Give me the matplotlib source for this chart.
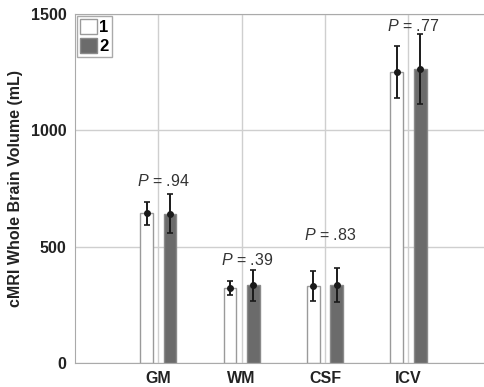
import matplotlib
matplotlib.use("Agg")
import matplotlib.pyplot as plt
import numpy as np

# -----------------------------
# Data
# -----------------------------
categories = ["GM", "WM", "CSF", "ICV"]
mean_1 = [643, 321, 330, 1251]
err_1 = [48, 30, 64, 112]
mean_2 = [642, 334, 334, 1264]
err_2 = [83, 67, 73, 150]
p_labels = [".94", ".39", ".83", ".77"]
p_heights = [784, 441, 549, 1449]

plt.rcParams["font.family"] = "Liberation Sans"
plt.rcParams["mathtext.fontset"] = "custom"
plt.rcParams["mathtext.it"] = "Liberation Sans:italic"
plt.rcParams["mathtext.rm"] = "Liberation Sans"

fig = plt.figure(figsize=(4.84, 3.87), dpi=100)
ax = fig.add_axes([75 / 484, 24 / 387, 0.861, 349 / 387])

x = np.arange(1, len(categories) + 1)
off = 0.14
w = 0.155

ax.bar(x - off, mean_1, w, color="white", edgecolor="#9a9a9a", linewidth=1, label="1", zorder=2)
ax.bar(x + off, mean_2, w, color="#6b6b6b", edgecolor="#8a8a8a", linewidth=1, label="2", zorder=2)

for xs, m, e in [(x - off, mean_1, err_1), (x + off, mean_2, err_2)]:
    ax.errorbar(xs, m, yerr=e, fmt="o", color="#1a1a1a", ms=4, capsize=2.5,
                elinewidth=1.4, capthick=1.2, zorder=3)

for xi, lab, h in zip(x, p_labels, p_heights):
    ax.text(xi + 0.06, h, "$P$ = " + lab, ha="center", va="center",
            fontsize=11.5, color="#333333", zorder=4)

ax.set_xlim(0, 5)
ax.set_ylim(0, 1500)
ax.set_yticks([0, 500, 1000, 1500])
ax.set_xticks(x)
ax.set_xticklabels(categories)
for t in ax.get_xticklabels() + ax.get_yticklabels():
    t.set_fontweight("bold")
    t.set_fontsize(11.5)
    t.set_color("#222222")
ax.tick_params(length=0, pad=6)

ax.grid(True, color="#cfcfcf", linewidth=1)
ax.set_axisbelow(True)
for s in ax.spines.values():
    s.set_color("#aaaaaa")
ax.spines["right"].set_visible(False)

ax.set_ylabel("cMRI Whole Brain Volume (mL)", fontsize=11.5, fontweight="bold",
              color="#222222", labelpad=6)

leg = ax.legend(loc="upper left", borderaxespad=0.1, handlelength=1.0,
                handleheight=1.0, handletextpad=0.15, borderpad=0.2, labelspacing=0.15,
                fancybox=False, framealpha=1, prop={"weight": "bold", "size": 12})
leg.get_frame().set_edgecolor("#aaaaaa")

fig.savefig("out.png", dpi=100)
